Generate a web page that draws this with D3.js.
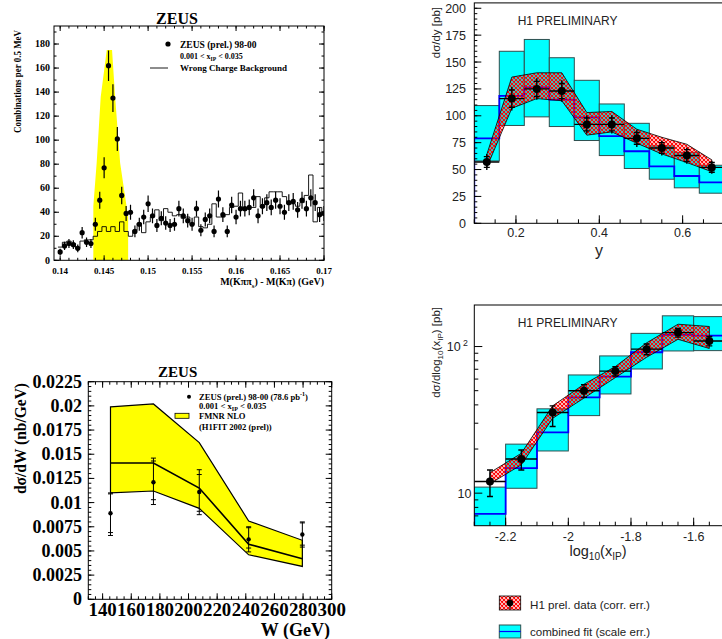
<!DOCTYPE html>
<html>
<head>
<meta charset="utf-8">
<script src="https://cdn.jsdelivr.net/npm/d3@7"></script>
<style>
body { margin: 0; background: #fff; }
</style>
</head>
<body>
<div id="chart"></div>
<script>
// ---------- top left: D* mass difference ----------
const massTicks = [0.14, 0.145, 0.15, 0.155, 0.16, 0.165, 0.17];
const countTicks = [0, 20, 40, 60, 80, 100, 120, 140, 160, 180];
const massCounts = [7, 12, 14, 13, 10, 23, 15, 14, 30, 50, 77, 162, 135, 101, 54, 39, 40, 24, 30, 36,
    47, 37, 29, 35, 31, 29, 30, 43, 37, 33, 30, 43, 25, 34, 37, 24, 51, 38, 24, 46,
    36, 43, 43, 44, 52, 37, 45, 48, 44, 50, 45, 40, 48, 49, 42, 50, 43, 52, 48, 38, 39];
const massErrors = [2.6, 3.5, 3.7, 3.6, 3.2, 4.8, 3.9, 3.7, 5.5, 7.1, 8.8, 12.7, 11.6, 10.0, 7.3, 6.2, 6.3, 4.9, 5.5, 6.0,
    6.9, 6.1, 5.4, 5.9, 5.6, 5.4, 5.5, 6.6, 6.1, 5.7, 5.5, 6.6, 5.0, 5.8, 6.1, 4.9, 7.1, 6.2, 4.9, 6.8,
    6.0, 6.6, 6.6, 6.6, 7.2, 6.1, 6.7, 6.9, 6.6, 7.1, 6.7, 6.3, 6.9, 7.0, 6.5, 7.1, 6.6, 7.2, 6.9, 6.2, 6.2];
const wrongCharge = [11, 15, 16, 14, 10, 16, 17, 17, 20, 24, 28, 24, 28, 24, 32, 24, 20, 25, 31, 23,
    32, 36, 42, 33, 43, 40, 37, 38, 35, 36, 30, 36, 28, 27, 30, 47, 36, 36, 38, 44,
    45, 56, 42, 44, 44, 53, 44, 52, 57, 57, 57, 53, 47, 47, 45, 48, 54, 71, 32, 44, 40];
const signalX = [0.14377, 0.14377, 0.14415, 0.14461, 0.1453, 0.1459, 0.14625, 0.14682, 0.14773, 0.14773];
const signalY = [0, 45, 81, 136, 175, 175, 136, 81, 36, 0];

// ---------- top right: dsigma/dy ----------
const yBinLo = [0.10, 0.16, 0.22, 0.28, 0.34, 0.40, 0.46, 0.52, 0.58, 0.64];
const yBinHi = [0.16, 0.22, 0.28, 0.34, 0.40, 0.46, 0.52, 0.58, 0.64, 0.70];
const yCenter = [0.13, 0.19, 0.25, 0.31, 0.37, 0.43, 0.49, 0.55, 0.61, 0.67];
const dsdy = [57, 116, 125, 123, 92, 92, 79, 70, 63, 52];
const dsdyTot = [7.5, 11, 10, 10, 8.5, 8.5, 8, 7, 7.5, 6];
const dsdyStat = [5, 8, 7, 7, 6, 6, 5.5, 5, 5.5, 4.5];
const dsdyCorrUp = [64, 136, 140, 140, 103, 104, 87.5, 80, 73.5, 59];
const dsdyCorrLo = [52, 107, 116, 114, 82, 85, 74.5, 64.5, 56.5, 48];
const fitY = [79, 118.5, 126.5, 115, 98.5, 81, 67, 53, 44, 38];
const fitYUp = [109.5, 160, 171, 154, 133, 111, 93, 72, 66, 54];
const fitYLo = [58, 91, 99, 90, 77, 63, 51, 41, 33, 28];
const yTicksB = [0, 25, 50, 75, 100, 125, 150, 175, 200];
const xTicksB = [0.2, 0.4, 0.6];

// ---------- bottom left: dsigma/dW ----------
const wCenter = [145.5, 175.5, 207.5, 242, 279.5];
const dsdw = [0.0089, 0.0121, 0.0111, 0.0062, 0.0067];
const dsdwTotLo = [0.0066, 0.0098, 0.00875, 0.0049, 0.0054];
const dsdwTotHi = [0.0110, 0.0146, 0.0134, 0.0075, 0.0080];
const dsdwStatLo = [0.0069, 0.0103, 0.0091, 0.0053, 0.0056];
const dsdwStatHi = [0.0109, 0.0143, 0.0129, 0.0074, 0.0079];
const nloUp = [0.0199, 0.0202, 0.0162, 0.0081, 0.0061];
const nloMid = [0.0141, 0.0141, 0.0115, 0.0057, 0.0042];
const nloLo = [0.0110, 0.0112, 0.0094, 0.0046, 0.0034];
const wTicks = [140, 160, 180, 200, 220, 240, 260, 280, 300];
const dsdwTicks = ["0", "0.0025", "0.005", "0.0075", "0.01", "0.0125", "0.015", "0.0175", "0.02", "0.0225"];

// ---------- bottom right: dsigma/dlog10(xIP) ----------
const xpBinLo = [-2.3, -2.2, -2.1, -2.0, -1.9, -1.8, -1.7, -1.6];
const xpBinHi = [-2.2, -2.1, -2.0, -1.9, -1.8, -1.7, -1.6, -1.5];
const xpCenter = [-2.25, -2.15, -2.05, -1.95, -1.85, -1.75, -1.65, -1.55];
const dsdx = [12.0, 17.1, 35.5, 50, 68, 96, 124.5, 109];
const dsdxLo = [9.5, 14.4, 28.5, 45, 63, 88, 116, 101];
const dsdxHi = [14.4, 19.7, 39.4, 55, 73, 104, 133, 117];
const dsdxCorrUp = [13.8, 18.7, 39.4, 55.3, 73, 106, 142, 137];
const dsdxCorrLo = [11.6, 15.6, 32.4, 44.5, 61.4, 84.5, 112, 97];
const fitX = [7.23, 14.8, 26, 45, 62.4, 91.4, 120, 118.6];
const fitXUp = [11.0, 21.6, 37.6, 64, 86.3, 123, 162, 160];
const fitXLo = [5, 10.8, 19.4, 33.8, 47.5, 70.3, 93.3, 93.8];
const xTicksD = [-2.2, -2, -1.8, -1.6];

const serif = "'Liberation Serif', 'Times New Roman', serif",
    sans = "'Liberation Sans', Arial, sans-serif",
    cyan = "#00ffff", boxLine = "#2f4f4f", blue = "#0000ff";

const svg = d3.select("#chart").append("svg")
    .attr("width", 722)
    .attr("height", 639)
    .style("display", "block");
const defs = svg.append("defs");

// red cross hatch for the correlated error band
const hatch = defs.append("pattern").attr("id", "hatch")
    .attr("patternUnits", "userSpaceOnUse")
    .attr("width", 4).attr("height", 4);
hatch.append("path")
    .attr("d", "M-1,1L1,-1M0,4L4,0M3,5L5,3M-1,3L1,5M0,0L4,4M3,-1L5,1")
    .attr("stroke", "#ff0000")
    .attr("stroke-width", 1.1);

function addClip(id, x, y) {
    const [x0, x1] = x.range(), [y0, y1] = y.range();
    defs.append("clipPath").attr("id", id).append("rect")
        .attr("x", x0).attr("y", y1).attr("width", x1 - x0).attr("height", y0 - y1);
    return "url(#" + id + ")";
}

// ticks drawn inside the frame, optionally mirrored on top/right
function drawTicks(g, x, y, xSets, ySets, mirror) {
    const [xl, xr] = x.range(), [yb, yt] = y.range();
    const tg = g.append("g").attr("stroke", "#000").attr("stroke-width", 1);
    xSets.forEach(([vals, len]) => vals.forEach(v => {
        const p = x(v);
        tg.append("line").attr("x1", p).attr("x2", p).attr("y1", yb).attr("y2", yb - len);
        if (mirror) tg.append("line").attr("x1", p).attr("x2", p).attr("y1", yt).attr("y2", yt + len);
    }));
    ySets.forEach(([vals, len]) => vals.forEach(v => {
        const p = y(v);
        tg.append("line").attr("x1", xl).attr("x2", xl + len).attr("y1", p).attr("y2", p);
        if (mirror) tg.append("line").attr("x1", xr).attr("x2", xr - len).attr("y1", p).attr("y2", p);
    }));
}

// text with sub/superscripts: parts = [[text, null|"sub"|"sup"], ...]
function rich(sel, parts, size) {
    let shift = 0;
    parts.forEach(([t, kind]) => {
        const want = kind === "sub" ? size * 0.3 : kind === "sup" ? -size * 0.4 : 0;
        sel.append("tspan")
            .attr("dy", want - shift)
            .attr("font-size", kind ? size * 0.7 : size)
            .text(t);
        shift = want;
    });
    return sel;
}

function frame(g, x, y) {
    const [x0, x1] = x.range(), [y0, y1] = y.range();
    g.append("rect").attr("x", x0).attr("y", y1).attr("width", x1 - x0).attr("height", y0 - y1)
        .attr("fill", "none").attr("stroke", "#000").attr("stroke-width", 1);
}

// ================= panel A =================
(function() {
    const x = d3.scaleLinear().domain([0.1393, 0.17]).range([54, 324]);
    const y = d3.scaleLinear().domain([0, 195]).range([260.3, 26]);
    const g = svg.append("g");
    const plot = g.append("g").attr("clip-path", addClip("clipA", x, y));
    const massBins = d3.range(massCounts.length).map(k => 0.14 + k * 0.0005);

    plot.append("path")
        .datum(signalX.map((v, i) => [v, signalY[i]]))
        .attr("d", d3.line().x(d => x(d[0])).y(d => y(d[1])))
        .attr("fill", "#ffff00");

    const hist = [];
    massBins.forEach((m, i) => { hist.push([m - 0.00025, wrongCharge[i]], [m + 0.00025, wrongCharge[i]]); });
    plot.append("path")
        .datum(hist)
        .attr("d", d3.line().x(d => x(d[0])).y(d => y(d[1])))
        .attr("fill", "none").attr("stroke", "#000").attr("stroke-width", 0.9);

    plot.selectAll("line.err").data(massBins).join("line")
        .attr("x1", d => x(d)).attr("x2", d => x(d))
        .attr("y1", (d, i) => y(massCounts[i] - massErrors[i]))
        .attr("y2", (d, i) => y(massCounts[i] + massErrors[i]))
        .attr("stroke", "#000").attr("stroke-width", 1.2);
    plot.selectAll("circle").data(massBins).join("circle")
        .attr("cx", d => x(d)).attr("cy", (d, i) => y(massCounts[i]))
        .attr("r", 2.6).attr("fill", "#000");

    frame(g, x, y);
    drawTicks(g, x, y,
        [[d3.range(0.14, 0.1701, 0.001), 2.5], [massTicks, 5]],
        [[d3.range(0, 195, 10), 2.5], [countTicks, 5]], true);

    g.selectAll("text.yt").data(countTicks).join("text")
        .attr("x", 50).attr("y", d => y(d) + 3.2)
        .attr("text-anchor", "end").attr("font-family", serif).attr("font-weight", "bold")
        .attr("font-size", 10).text(d => d);
    g.selectAll("text.xt").data(massTicks).join("text")
        .attr("x", d => x(d)).attr("y", 274)
        .attr("text-anchor", "middle").attr("font-family", serif).attr("font-weight", "bold")
        .attr("font-size", 9).text(d => d);

    g.append("text").attr("x", 177).attr("y", 24)
        .attr("text-anchor", "middle").attr("font-family", serif).attr("font-weight", "bold")
        .attr("font-size", 16).text("ZEUS");
    g.append("text").attr("transform", "translate(21,30) rotate(-90)")
        .attr("text-anchor", "end").attr("font-family", serif).attr("font-weight", "bold")
        .attr("font-size", 10.5).attr("textLength", 103).attr("lengthAdjust", "spacingAndGlyphs")
        .text("Combinations per 0.5 MeV");
    rich(g.append("text").attr("x", 324).attr("y", 285)
        .attr("text-anchor", "end").attr("font-family", serif).attr("font-weight", "bold"),
        [["M(K\u03c0\u03c0", null], ["s", "sub"], [") - M(K\u03c0) (GeV)", null]], 10);

    // legend
    g.append("circle").attr("cx", 168).attr("cy", 44).attr("r", 2.6).attr("fill", "#000");
    g.append("text").attr("x", 180).attr("y", 47.5).attr("font-family", serif).attr("font-weight", "bold")
        .attr("font-size", 9.5).text("ZEUS (prel.) 98-00");
    rich(g.append("text").attr("x", 180).attr("y", 58.5).attr("font-family", serif).attr("font-weight", "bold"),
        [["0.001 < x", null], ["IP", "sub"], [" < 0.035", null]], 8);
    g.append("line").attr("x1", 150).attr("x2", 168).attr("y1", 68).attr("y2", 68)
        .attr("stroke", "#000").attr("stroke-width", 0.9);
    g.append("text").attr("x", 180).attr("y", 70.5).attr("font-family", serif).attr("font-weight", "bold")
        .attr("font-size", 9).text("Wrong Charge Background");
})();

// ================= panel B =================
(function() {
    const x = d3.scaleLinear().domain([0.1, 0.7]).range([474.3, 724.3]);
    const y = d3.scaleLinear().domain([0, 205]).range([223.3, 2.9]);
    const g = svg.append("g");
    const plot = g.append("g").attr("clip-path", addClip("clipB", x, y));

    plot.selectAll("rect.fit").data(yBinLo).join("rect")
        .attr("x", d => x(d)).attr("width", (d, i) => x(yBinHi[i]) - x(d))
        .attr("y", (d, i) => y(fitYUp[i])).attr("height", (d, i) => y(fitYLo[i]) - y(fitYUp[i]))
        .attr("fill", cyan).attr("stroke", boxLine).attr("stroke-width", 1);

    const fitPts = [[yBinLo[0], 0]];
    yBinLo.forEach((d, i) => { fitPts.push([d, fitY[i]], [yBinHi[i], fitY[i]]); });
    plot.append("path").datum(fitPts)
        .attr("d", d3.line().x(d => x(d[0])).y(d => y(d[1])))
        .attr("fill", "none").attr("stroke", blue).attr("stroke-width", 1.8);

    const band = yCenter.map((c, i) => [c, dsdyCorrUp[i]])
        .concat(yCenter.map((c, i) => [c, dsdyCorrLo[i]]).reverse());
    plot.append("path").datum(band)
        .attr("d", d3.line().x(d => x(d[0])).y(d => y(d[1])).curve(d3.curveLinearClosed))
        .attr("fill", "url(#hatch)").attr("stroke", "#000").attr("stroke-width", 0.8);

    const pts = plot.append("g").attr("stroke", "#000").attr("stroke-width", 1.4);
    yCenter.forEach((c, i) => {
        pts.append("line").attr("x1", x(yBinLo[i])).attr("x2", x(yBinHi[i]))
            .attr("y1", y(dsdy[i])).attr("y2", y(dsdy[i]));
        pts.append("line").attr("x1", x(c)).attr("x2", x(c))
            .attr("y1", y(dsdy[i] - dsdyTot[i])).attr("y2", y(dsdy[i] + dsdyTot[i]));
        [dsdy[i] - dsdyStat[i], dsdy[i] + dsdyStat[i]].forEach(v => {
            pts.append("line").attr("x1", x(c) - 3).attr("x2", x(c) + 3).attr("y1", y(v)).attr("y2", y(v));
        });
    });
    plot.selectAll("circle").data(yCenter).join("circle")
        .attr("cx", d => x(d)).attr("cy", (d, i) => y(dsdy[i])).attr("r", 4).attr("fill", "#000");

    frame(g, x, y);
    drawTicks(g, x, y,
        [[d3.range(0.1, 0.701, 0.05), 4], [xTicksB, 8]],
        [[d3.range(0, 205, 5), 3], [yTicksB, 7]], false);

    g.selectAll("text.yt").data(yTicksB).join("text")
        .attr("x", 466).attr("y", d => y(d) + 4.5)
        .attr("text-anchor", "end").attr("font-family", sans).attr("font-size", 12.5).attr("fill", "#222")
        .text(d => d);
    g.selectAll("text.xt").data(xTicksB).join("text")
        .attr("x", d => x(d)).attr("y", 237)
        .attr("text-anchor", "middle").attr("font-family", sans).attr("font-size", 12.5).attr("fill", "#222")
        .text(d => d);
    g.append("text").attr("x", 599).attr("y", 256).attr("text-anchor", "middle")
        .attr("font-family", sans).attr("font-size", 16).attr("fill", "#222").text("y");
    g.append("text").attr("transform", "translate(440,7) rotate(-90)")
        .attr("text-anchor", "end").attr("font-family", sans).attr("font-size", 11.5).attr("fill", "#222")
        .text("d\u03c3/dy  [pb]");
    g.append("text").attr("x", 517.7).attr("y", 24.5)
        .attr("font-family", sans).attr("font-size", 12).attr("fill", "#222").text("H1 PRELIMINARY");
})();

// ================= panel C =================
(function() {
    const x = d3.scaleLinear().domain([130, 300]).range([88.3, 331.7]);
    const y = d3.scaleLinear().domain([0, 0.0225]).range([599.3, 381.7]);
    const g = svg.append("g");

    const band = wCenter.map((w, i) => [w, nloUp[i]])
        .concat(wCenter.map((w, i) => [w, nloLo[i]]).reverse());
    g.append("path").datum(band)
        .attr("d", d3.line().x(d => x(d[0])).y(d => y(d[1])).curve(d3.curveLinearClosed))
        .attr("fill", "#ffff00").attr("stroke", "#000").attr("stroke-width", 1.2);
    g.append("path").datum(wCenter.map((w, i) => [w, nloMid[i]]))
        .attr("d", d3.line().x(d => x(d[0])).y(d => y(d[1])))
        .attr("fill", "none").attr("stroke", "#000").attr("stroke-width", 1.6);

    const pts = g.append("g").attr("stroke", "#000").attr("stroke-width", 1);
    wCenter.forEach((w, i) => {
        pts.append("line").attr("x1", x(w)).attr("x2", x(w))
            .attr("y1", y(dsdwTotLo[i])).attr("y2", y(dsdwTotHi[i]));
        [dsdwTotLo[i], dsdwTotHi[i], dsdwStatLo[i], dsdwStatHi[i]].forEach(v => {
            pts.append("line").attr("x1", x(w) - 2.5).attr("x2", x(w) + 2.5).attr("y1", y(v)).attr("y2", y(v));
        });
    });
    g.selectAll("circle.pt").data(wCenter).join("circle")
        .attr("cx", d => x(d)).attr("cy", (d, i) => y(dsdw[i])).attr("r", 2.2).attr("fill", "#000");

    frame(g, x, y);
    drawTicks(g, x, y,
        [[d3.range(130, 301, 5), 3], [wTicks, 6]],
        [[d3.range(0, 0.0226, 0.0005), 3], [dsdwTicks.map(Number), 6]], true);

    g.selectAll("text.yt").data(dsdwTicks).join("text")
        .attr("x", 82).attr("y", d => y(+d) + 6)
        .attr("text-anchor", "end").attr("font-family", serif).attr("font-weight", "bold")
        .attr("font-size", 18).text(d => d);
    // the original packs these labels edge to edge
    g.selectAll("text.xt").data(wTicks).join("text")
        .attr("x", d => x(d)).attr("y", 616)
        .attr("text-anchor", "middle").attr("font-family", serif).attr("font-weight", "bold")
        .attr("font-size", 18).attr("textLength", 28.3).attr("lengthAdjust", "spacingAndGlyphs")
        .text(d => d);
    g.append("text").attr("x", 330).attr("y", 635.5).attr("text-anchor", "end")
        .attr("font-family", serif).attr("font-weight", "bold").attr("font-size", 18).text("W (GeV)");
    g.append("text").attr("transform", "translate(26,383) rotate(-90)")
        .attr("text-anchor", "end").attr("font-family", serif).attr("font-weight", "bold")
        .attr("font-size", 17).attr("textLength", 111).attr("lengthAdjust", "spacingAndGlyphs")
        .text("d\u03c3/dW (nb/GeV)");
    g.append("text").attr("x", 177.7).attr("y", 377).attr("text-anchor", "middle")
        .attr("font-family", serif).attr("font-weight", "bold").attr("font-size", 15).text("ZEUS");

    // legend
    g.append("circle").attr("cx", 189).attr("cy", 396.7).attr("r", 2).attr("fill", "#000");
    rich(g.append("text").attr("x", 199).attr("y", 399.5).attr("font-family", serif).attr("font-weight", "bold"),
        [["ZEUS (prel.) 98-00 (78.6 pb", null], ["-1", "sup"], [")", null]], 8.6);
    rich(g.append("text").attr("x", 199).attr("y", 408.5).attr("font-family", serif).attr("font-weight", "bold"),
        [["0.001 < x", null], ["IP", "sub"], [" < 0.035", null]], 8.6);
    g.append("rect").attr("x", 175).attr("y", 413.3).attr("width", 14).attr("height", 5)
        .attr("fill", "#ffff00").attr("stroke", "#000").attr("stroke-width", 0.8);
    g.append("text").attr("x", 199).attr("y", 418.8).attr("font-family", serif).attr("font-weight", "bold")
        .attr("font-size", 8.6).text("FMNR NLO");
    g.append("text").attr("x", 199).attr("y", 429.5).attr("font-family", serif).attr("font-weight", "bold")
        .attr("font-size", 8.6).text("(H1FIT 2002 (prel))");
})();

// ================= panel D =================
(function() {
    const x = d3.scaleLinear().domain([-2.3, -1.5]).range([474.3, 725]);
    const y = d3.scaleLog().domain([6, 192]).range([525.7, 305]);
    const g = svg.append("g");
    const plot = g.append("g").attr("clip-path", addClip("clipD", x, y));

    plot.selectAll("rect.fit").data(xpBinLo).join("rect")
        .attr("x", d => x(d)).attr("width", (d, i) => x(xpBinHi[i]) - x(d))
        .attr("y", (d, i) => y(fitXUp[i])).attr("height", (d, i) => y(fitXLo[i]) - y(fitXUp[i]))
        .attr("fill", cyan).attr("stroke", boxLine).attr("stroke-width", 1);

    const fitPts = [[xpBinLo[0], 5]];
    xpBinLo.forEach((d, i) => { fitPts.push([d, fitX[i]], [xpBinHi[i], fitX[i]]); });
    plot.append("path").datum(fitPts)
        .attr("d", d3.line().x(d => x(d[0])).y(d => y(d[1])))
        .attr("fill", "none").attr("stroke", blue).attr("stroke-width", 1.8);

    const band = xpCenter.map((c, i) => [c, dsdxCorrUp[i]])
        .concat(xpCenter.map((c, i) => [c, dsdxCorrLo[i]]).reverse());
    plot.append("path").datum(band)
        .attr("d", d3.line().x(d => x(d[0])).y(d => y(d[1])).curve(d3.curveLinearClosed))
        .attr("fill", "url(#hatch)").attr("stroke", "#000").attr("stroke-width", 0.8);

    const pts = plot.append("g").attr("stroke", "#000").attr("stroke-width", 1.4);
    xpCenter.forEach((c, i) => {
        pts.append("line").attr("x1", x(xpBinLo[i])).attr("x2", x(xpBinHi[i]))
            .attr("y1", y(dsdx[i])).attr("y2", y(dsdx[i]));
        pts.append("line").attr("x1", x(c)).attr("x2", x(c))
            .attr("y1", y(dsdxLo[i])).attr("y2", y(dsdxHi[i]));
        [dsdxLo[i], dsdxHi[i]].forEach(v => {
            pts.append("line").attr("x1", x(c) - 3).attr("x2", x(c) + 3).attr("y1", y(v)).attr("y2", y(v));
        });
    });
    plot.selectAll("circle").data(xpCenter).join("circle")
        .attr("cx", d => x(d)).attr("cy", (d, i) => y(dsdx[i])).attr("r", 4).attr("fill", "#000");

    frame(g, x, y);
    drawTicks(g, x, y,
        [[d3.range(-2.3, -1.49, 0.05), 4], [xTicksD, 8]],
        [[[7, 8, 9, 20, 30, 40, 50, 60, 70, 80, 90], 4], [[10, 100], 8]], false);

    rich(g.append("text").attr("x", 468).attr("y", y(100) + 4.5)
        .attr("text-anchor", "end").attr("font-family", sans).attr("fill", "#222"),
        [["10", null], [" 2", "sup"]], 12.5);
    g.append("text").attr("x", 471.5).attr("y", y(10) + 4.5)
        .attr("text-anchor", "end").attr("font-family", sans).attr("font-size", 12.5).attr("fill", "#222")
        .text("10");
    g.selectAll("text.xt").data(xTicksD).join("text")
        .attr("x", d => x(d)).attr("y", 540.5)
        .attr("text-anchor", "middle").attr("font-family", sans).attr("font-size", 12.5).attr("fill", "#222")
        .text(d => d);
    rich(g.append("text").attr("x", 598).attr("y", 556).attr("text-anchor", "middle")
        .attr("font-family", sans).attr("fill", "#222"),
        [["log", null], ["10", "sub"], ["(x", null], ["IP", "sub"], [")", null]], 14.5);
    rich(g.append("text").attr("transform", "translate(440,307) rotate(-90)")
        .attr("text-anchor", "end").attr("font-family", sans).attr("fill", "#222"),
        [["d\u03c3/dlog", null], ["10", "sub"], ["(x", null], ["IP", "sub"], [")  [pb]", null]], 11.5);
    g.append("text").attr("x", 517.7).attr("y", 327)
        .attr("font-family", sans).attr("font-size", 12).attr("fill", "#222").text("H1 PRELIMINARY");

    // legend
    const lg = g.append("g");
    lg.append("rect").attr("x", 499.3).attr("y", 596).attr("width", 21.4).attr("height", 14)
        .attr("fill", "url(#hatch)").attr("stroke", "#000").attr("stroke-width", 0.8);
    lg.append("line").attr("x1", 510).attr("x2", 510).attr("y1", 597).attr("y2", 609)
        .attr("stroke", "#000").attr("stroke-width", 1.2);
    lg.append("circle").attr("cx", 510).attr("cy", 603).attr("r", 3.3).attr("fill", "#000");
    lg.append("text").attr("x", 530).attr("y", 608.5).attr("font-family", sans).attr("font-size", 11)
        .attr("fill", "#222").attr("textLength", 120).attr("lengthAdjust", "spacingAndGlyphs")
        .text("H1 prel. data (corr. err.)");
    lg.append("rect").attr("x", 499.3).attr("y", 625).attr("width", 21.4).attr("height", 13)
        .attr("fill", cyan).attr("stroke", boxLine).attr("stroke-width", 1);
    lg.append("line").attr("x1", 499.3).attr("x2", 520.7).attr("y1", 631.5).attr("y2", 631.5)
        .attr("stroke", blue).attr("stroke-width", 1.2);
    lg.append("text").attr("x", 530).attr("y", 635.5).attr("font-family", sans).attr("font-size", 11)
        .attr("fill", "#222").attr("textLength", 120).attr("lengthAdjust", "spacingAndGlyphs")
        .text("combined fit (scale err.)");
})();
</script>
</body>
</html>
